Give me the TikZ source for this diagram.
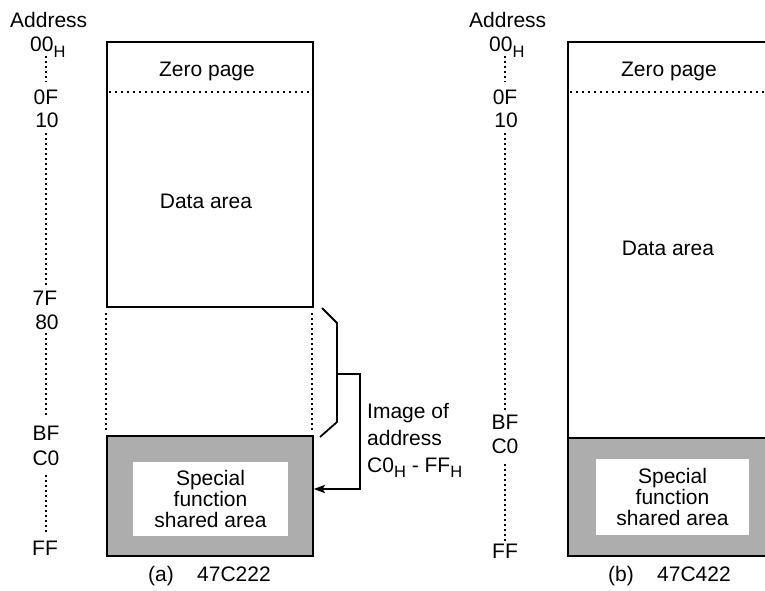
\documentclass[tikz,border=0pt]{standalone}
\usepackage{fontspec}
\setmainfont{Liberation Sans}
\usetikzlibrary{arrows.meta}
\newcommand{\Hsub}{\raisebox{-5.5pt}{\fontsize{16.5}{16.5}\selectfont H}}
\begin{document}
\begin{tikzpicture}[x=1pt,y=-1pt,
  lbl/.style={anchor=base,inner sep=0pt,font=\fontsize{21}{25}\selectfont},
  lblw/.style={lbl,anchor=base west},
  memline/.style={draw=black,line width=1.8pt},
  dotv/.style={line width=1.6pt,dash pattern=on 1.6pt off 3.4pt},
  doth/.style={line width=1.6pt,dash pattern=on 1.6pt off 4.4pt},
  shadebox/.style={memline,fill=black!32,anchor=north west,inner sep=0pt,minimum width=206pt},
  areabox/.style={memline,anchor=north west,inner sep=0pt,minimum width=206pt},
  whitebox/.style={fill=white,inner sep=0pt,align=center,font=\fontsize{21}{21}\selectfont},
  conn/.style={line width=1.8pt}]
\useasboundingbox (0,0) rectangle (765,591);
\clip (0,0) rectangle (765,591);

% ---------------- (a) 47C222 ----------------
\node[lblw] (addrA) at (10,28) {Address};
\node[lblw] (a00) at (30,52) {00\Hsub};
\node[lbl] (a0F) at (46,105) {0F};
\node[lbl] (a10) at (47,128) {10};
\node[lbl] (a7F) at (45,305) {7F};
\node[lbl] (a80) at (47,329) {80};
\node[lbl] (aBF) at (46,440) {BF};
\node[lbl] (aC0) at (46,465) {C0};
\node[lbl] (aFF) at (45,555) {FF};
\draw[dotv] (46,56) -- (46,82);
\draw[dotv] (46,133) -- (46,288);
\draw[dotv] (46,333) -- (46,416);
\draw[dotv] (46,475) -- (46,533);

\node[areabox,minimum height=265pt] (dataA) at (106,41) {};
\draw[doth] (109,92) -- (312,92);
\node[lbl] (zeroA) at (207,77) {Zero page};
\node[lbl] (dataAt) at (206,208) {Data area};
\draw[dotv] (106,313) -- (106,432);
\draw[dotv] (312,313) -- (312,432);
\node[shadebox,minimum height=120pt] (sharedA) at (106,435) {};
\node[whitebox,minimum width=155pt,minimum height=74pt] (sharedAt) at (210.5,499) {Special\\function\\shared area};
\node[lblw] (capA1) at (148,581) {(a)};
\node[lblw] (capA2) at (197,581) {47C222};

% brace and arrow
\coordinate (b1) at (322,308);
\coordinate (b2) at (337,323);
\coordinate (bm) at (337,374);
\coordinate (b3) at (337,422);
\coordinate (b4) at (320,437);
\coordinate (r1) at (360,374);
\coordinate (r2) at (360,489);
\draw[conn,line join=miter] (b1) -- (b2) -- (b3) -- (b4);
\draw[conn,-{Stealth[length=11pt,width=8pt,inset=2pt]}] (bm) -- (r1) -- (r2) -- (sharedA.east |- r2);
\node[lblw] (img1) at (367,418) {Image of};
\node[lblw] (img2) at (367,445) {address};
\node[lblw] (img3) at (367,472) {C0\Hsub\ - FF\Hsub};

% ---------------- (b) 47C422 ----------------
\node[lblw] (addrB) at (469,28) {Address};
\node[lblw] (b00) at (489,52) {00\Hsub};
\node[lbl] (b0F) at (505,105) {0F};
\node[lbl] (b10) at (506,128) {10};
\node[lbl] (bBF) at (505,429) {BF};
\node[lbl] (bC0) at (505,453) {C0};
\node[lbl] (bFF) at (505,558) {FF};
\draw[dotv] (505,56) -- (505,82);
\draw[dotv] (505,133) -- (505,412);
\draw[dotv] (505,464) -- (505,541);

\node[areabox,minimum width=204pt,minimum height=396pt] (dataB) at (567,41) {};
\draw[doth] (570,92) -- (771,92);
\node[lbl] (zeroB) at (669,77) {Zero page};
\node[lbl] (dataBt) at (668,255) {Data area};
\node[shadebox,minimum width=204pt,minimum height=118pt] (sharedB) at (567,437) {};
\node[whitebox,minimum width=153pt,minimum height=76pt] (sharedBt) at (672.5,497) {Special\\function\\shared area};
\node[lblw] (capB1) at (608,581) {(b)};
\node[lblw] (capB2) at (657,581) {47C422};
\end{tikzpicture}
\end{document}
